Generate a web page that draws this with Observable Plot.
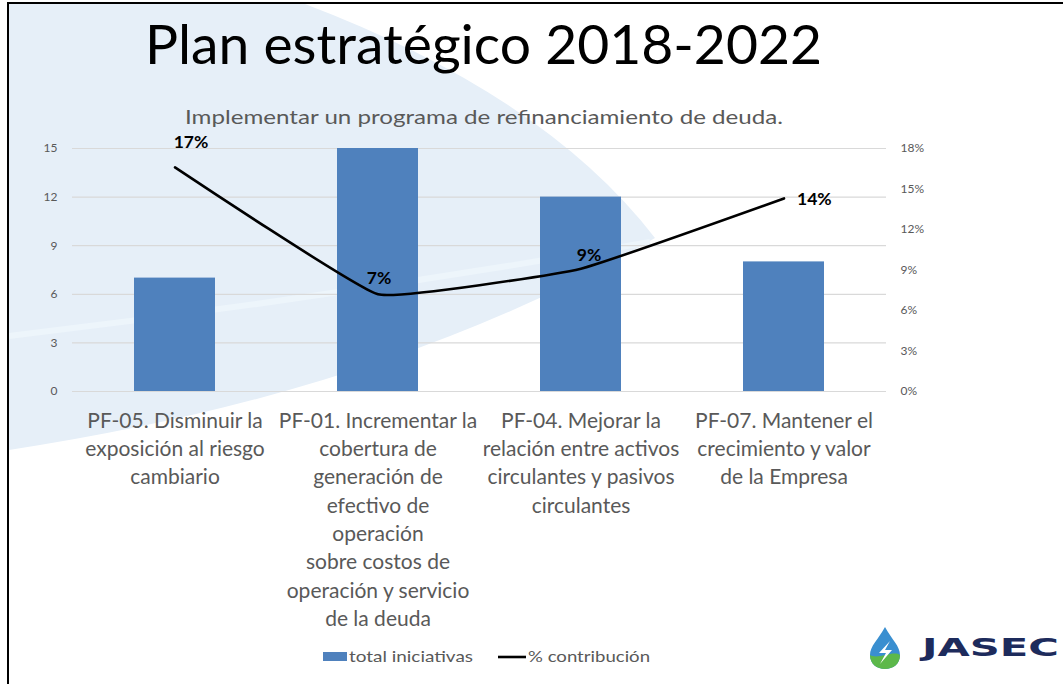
<!DOCTYPE html>
<html>
<head>
<meta charset="utf-8">
<script src="https://cdn.jsdelivr.net/npm/d3@7"></script>
<script src="https://cdn.jsdelivr.net/npm/@observablehq/plot@0.6"></script>
<style>
  html, body { margin: 0; padding: 0; background: #fff; }
  #page { position: relative; width: 1063px; height: 684px; overflow: hidden; font-family: Lato, "Open Sans", sans-serif; }
  #deco, #texts { position: absolute; left: 0; top: 0; }
  #chart { position: absolute; left: 0; top: 130px; }
  #frame { position: absolute; left: 7px; top: 2px; width: 1100px; height: 720px; border-left: 2px solid #000; border-top: 2px solid #000; }
</style>
</head>
<body>
<div id="page">
  <svg id="deco" width="1063" height="684">
    <path d="M9,4 L305,4 Q 545,95 655,238 Q 390,392 9,450 Z" fill="#e6eff8"/>
    <path d="M9,336 Q 330,298 650,242" fill="none" stroke="#edf5fb" stroke-width="6"/>
  </svg>
  <div id="frame"></div>
  <div id="chart"></div>
  <svg id="texts" width="1063" height="684" font-family="Lato, 'Open Sans', sans-serif">
    <text x="145" y="64" font-size="54" fill="#000" textLength="677" lengthAdjust="spacingAndGlyphs">Plan estratégico 2018-2022</text>
    <text x="185" y="124" font-size="20" fill="#595959" textLength="598" lengthAdjust="spacingAndGlyphs">Implementar un programa de refinanciamiento de deuda.</text>
    <g id="legend"></g>
    <g id="logo">
      <path d="M885,627 C 878,640 870,646 870,655 C 870,664 877,669 885,669 C 893,669 900,664 900,655 C 900,646 892,640 885,627 Z" fill="#3a8fd0"/>
      <path d="M870,655 C 870,664 877,669 885,669 C 893,669 900,664 900,655 C 893,650 878,660 870,655 Z" fill="#5cb84a"/>
      <path d="M890,641 L879,653 L886,653 L880,664 L892,650 L885,650 Z" fill="#ffffff"/>
      <text x="922" y="656" font-size="25" font-weight="900" fill="#1d2b5c" font-family="'DejaVu Sans', sans-serif" textLength="137" lengthAdjust="spacingAndGlyphs">JASEC</text>
    </g>
  </svg>
</div>
<script>
// ---- data ----
const categories = [
  "PF-05. Disminuir la\nexposición al riesgo\ncambiario",
  "PF-01. Incrementar la\ncobertura de\ngeneración de\nefectivo de\noperación\nsobre costos de\noperación y servicio\nde la deuda",
  "PF-04. Mejorar la\nrelación entre activos\ncirculantes y pasivos\ncirculantes",
  "PF-07. Mantener el\ncrecimiento y valor\nde la Empresa"
];
const totalIniciativas = [7, 15, 12, 8];
const contribucion = [16.6, 7.2, 9.1, 14.3];   // percent
const leftTicks = [0, 3, 6, 9, 12, 15];
const rightTicks = [0, 3, 6, 9, 12, 15, 18];     // percent
const seriesNames = ["total iniciativas", "% contribución"];

// ---- layout / style ----
const barColor = "#4f81bd";
const axisColor = "#595959";
const leftMax = 15, rightMax = 18;
const labelPlacement = ["upRight", "up", "upSlight", "right"];
const placementStyle = {
  upRight:  { dx: 16, dy: -25, textAnchor: "middle" },
  up:       { dx: 1,  dy: -16, textAnchor: "middle" },
  upSlight: { dx: 8,  dy: -13, textAnchor: "middle" },
  right:    { dx: 13, dy: 1,   textAnchor: "start" }
};

const rows = categories.map((c, i) => ({
  cat: c, total: totalIniciativas[i], pct: contribucion[i], place: labelPlacement[i]
}));
const toLeft = p => p * leftMax / rightMax;

const labelMarks = Object.entries(placementStyle).map(([key, st]) =>
  Plot.text(rows.filter(d => d.place === key), {
    x: "cat", y: d => toLeft(d.pct), text: d => Math.round(d.pct) + "%",
    ...st, fontSize: 17.5, fontWeight: "bold", fill: "#000"
  })
);

const plot = Plot.plot({
  width: 1063,
  height: 510,
  marginTop: 18,
  marginBottom: 249,
  marginLeft: 72,
  marginRight: 177,
  style: { background: "transparent", fontFamily: "Lato, 'Open Sans', sans-serif", overflow: "visible" },
  x: { domain: categories, paddingInner: 0.6, paddingOuter: 0.3, axis: null, label: null },
  y: { domain: [0, leftMax], axis: null, label: null },
  marks: [
    Plot.gridY({ ticks: leftTicks, stroke: "#d9d9d9", strokeOpacity: 1, strokeWidth: 1.2 }),
    Plot.barY(rows, { x: "cat", y: "total", fill: barColor }),
    Plot.line(rows, { x: "cat", y: d => toLeft(d.pct), stroke: "#000", strokeWidth: 2.6, curve: "cardinal", tension: 0.7 }),
    ...labelMarks,
    Plot.axisY({ anchor: "left", ticks: leftTicks, tickSize: 0, tickPadding: 15, fontSize: 12, color: axisColor, label: null }),
    Plot.axisY({ anchor: "right", ticks: rightTicks.map(toLeft), tickSize: 0, tickPadding: 14, fontSize: 12, color: axisColor, label: null,
                 tickFormat: d => Math.round(d * rightMax / leftMax) + "%" }),
    Plot.axisX({ anchor: "bottom", tickSize: 0, tickPadding: 16, fontSize: 21, lineHeight: 1.35, color: axisColor, label: null })
  ]
});
document.getElementById("chart").appendChild(plot);

// ---- legend ----
const ns = "http://www.w3.org/2000/svg";
const lg = document.getElementById("legend");
function el(tag, attrs, text) {
  const e = document.createElementNS(ns, tag);
  for (const k in attrs) e.setAttribute(k, attrs[k]);
  if (text) e.textContent = text;
  lg.appendChild(e);
  return e;
}
el("rect", { x: 323, y: 652, width: 24, height: 9, fill: barColor });
el("text", { x: 349, y: 662, "font-size": 15, fill: axisColor, textLength: 124, lengthAdjust: "spacingAndGlyphs" }, seriesNames[0]);
el("line", { x1: 498, x2: 526, y1: 657, y2: 657, stroke: "#000", "stroke-width": 2.6 });
el("text", { x: 528, y: 662, "font-size": 15, fill: axisColor, textLength: 122, lengthAdjust: "spacingAndGlyphs" }, seriesNames[1]);
</script>
</body>
</html>
